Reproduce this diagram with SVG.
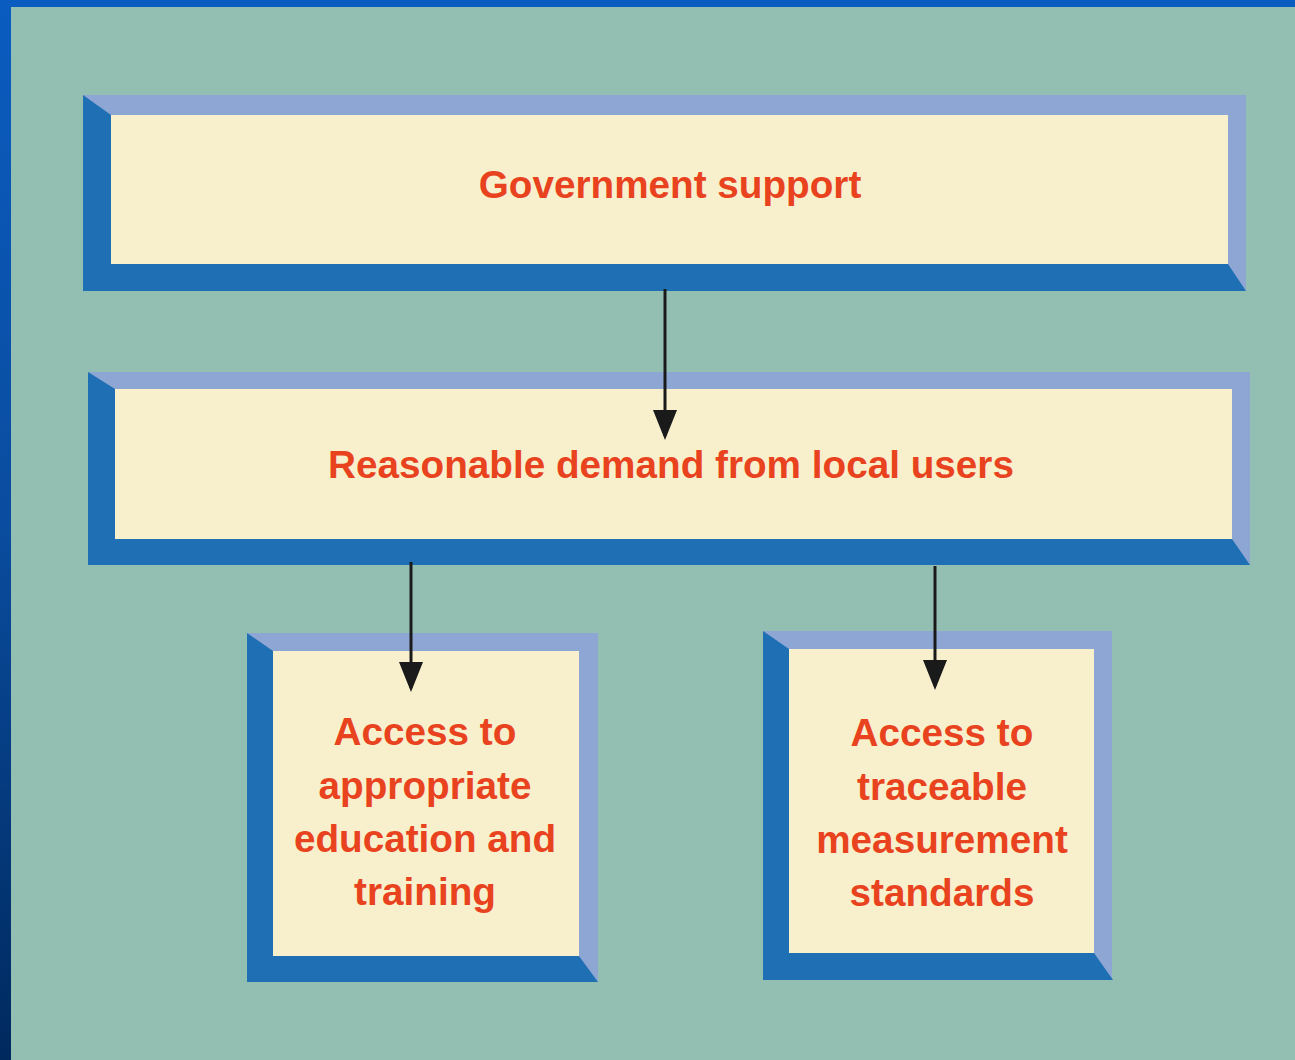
<svg xmlns="http://www.w3.org/2000/svg" width="1295" height="1060" viewBox="0 0 1295 1060">
  <defs>
    <linearGradient id="bgblue" x1="0" y1="0" x2="0" y2="1">
      <stop offset="0" stop-color="#0A5CC0"/>
      <stop offset="0.5" stop-color="#0A4C9E"/>
      <stop offset="1" stop-color="#00295E"/>
    </linearGradient>
    <marker id="arrow" markerUnits="userSpaceOnUse" markerWidth="30" markerHeight="24" refX="26" refY="12" orient="auto" viewBox="0 0 30 24">
      <path d="M0,0 L30,12 L0,24 Z" fill="#1A1A1A"/>
    </marker>
  </defs>
  <style>
    .light { fill: #8EA6D3; }
    .dark { fill: #1E6FB3; }
    .cream { fill: #F8F0CC; }
    .label { font-family: "Liberation Sans", Arial, sans-serif; font-weight: bold; font-size: 38.7px; fill: #E8431E; text-anchor: middle; }
    .conn { stroke: #1A1A1A; stroke-width: 3; fill: none; }
  </style>
  <rect x="0" y="0" width="1295" height="1060" fill="url(#bgblue)"/>
  <rect x="11" y="7" width="1284" height="1053" fill="#93BFB2"/>

  <g id="node-government">
    <rect class="light" x="83" y="95" width="1163" height="196"/>
    <polygon class="dark" points="83,95 111,115 111,264 1228,264 1246,291 83,291"/>
    <rect class="cream" x="111" y="115" width="1117" height="149"/>
    <text class="label" x="670" y="198">Government support</text>
  </g>

  <g id="node-demand">
    <rect class="light" x="88" y="372" width="1162" height="193"/>
    <polygon class="dark" points="88,372 115,389 115,539 1232,539 1250,565 88,565"/>
    <rect class="cream" x="115" y="389" width="1117" height="150"/>
    <text class="label" x="671" y="478">Reasonable demand from local users</text>
  </g>

  <g id="node-education">
    <rect class="light" x="247" y="633" width="351" height="349"/>
    <polygon class="dark" points="247,633 273,651 273,956 579,956 598,982 247,982"/>
    <rect class="cream" x="273" y="651" width="306" height="305"/>
    <text class="label" x="425" y="745">Access to</text>
    <text class="label" x="425" y="799">appropriate</text>
    <text class="label" x="425" y="852">education and</text>
    <text class="label" x="425" y="905">training</text>
  </g>

  <g id="node-standards">
    <rect class="light" x="763" y="631" width="349" height="348"/>
    <polygon class="dark" points="763,631 789,649 789,953 1094,953 1113,980 763,980"/>
    <rect class="cream" x="789" y="649" width="305" height="304"/>
    <text class="label" x="942" y="746">Access to</text>
    <text class="label" x="942" y="800">traceable</text>
    <text class="label" x="942" y="853">measurement</text>
    <text class="label" x="942" y="906">standards</text>
  </g>

  <g id="connectors">
    <line class="conn" x1="665" y1="289" x2="665" y2="436" marker-end="url(#arrow)"/>
    <line class="conn" x1="411" y1="562" x2="411" y2="688" marker-end="url(#arrow)"/>
    <line class="conn" x1="935" y1="566" x2="935" y2="686" marker-end="url(#arrow)"/>
  </g>
</svg>
